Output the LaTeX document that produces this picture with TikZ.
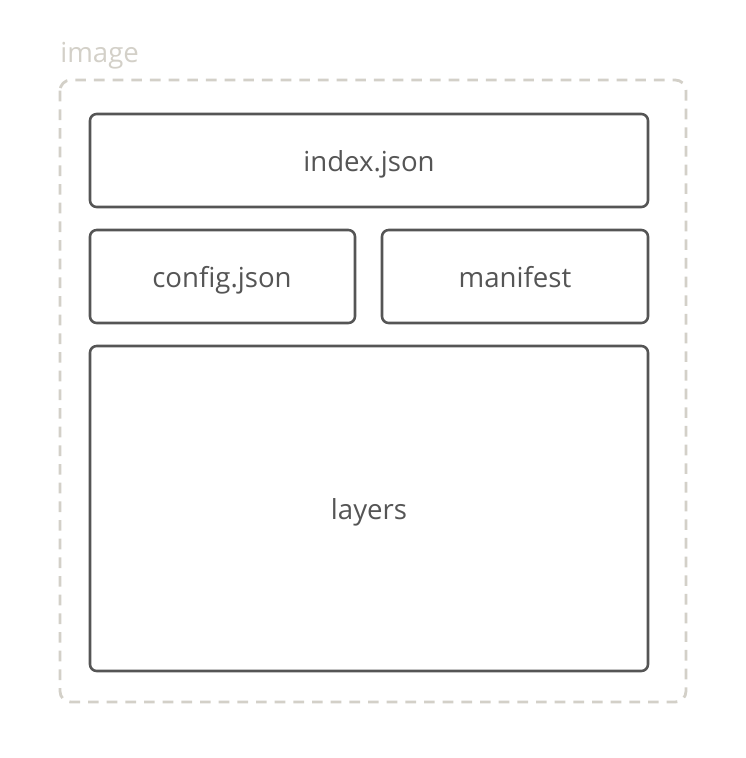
\documentclass[tikz,border=0pt]{standalone}
\usepackage{fontspec}
\setmainfont{Open Sans}
\begin{document}
\begin{tikzpicture}[x=0.75pt,y=-0.75pt,
  box/.style={draw=boxgray,line width=1.9pt,rounded corners=5pt,fill=white},
  lbl/.style={text=boxgray,font=\fontsize{20.7pt}{24pt}\selectfont,text height=15pt,text depth=4pt,inner sep=0pt}]
\definecolor{boxgray}{HTML}{555555}
\definecolor{frame}{HTML}{D3D0C8}
\useasboundingbox (0,0) rectangle (746,758);
\draw[frame,line width=2.1pt,dash pattern=on 8pt off 6pt,rounded corners=8pt] (60,80) rectangle (686,702);
\node[anchor=west,text=frame,font=\fontsize{20.7pt}{24pt}\selectfont,text height=15pt,text depth=4pt,inner sep=0pt] (img) at (60,55) {image};
\draw[box] (90,114) rectangle (648,207);
\node[lbl] (idx) at (369,164) {index.json};
\draw[box] (90,230) rectangle (355,323);
\node[lbl] (cfg) at (222,280) {config.json};
\draw[box] (382,230) rectangle (648,323);
\node[lbl] (man) at (515,280) {manifest};
\draw[box] (90,346) rectangle (648,671);
\node[lbl] (lay) at (369,512) {layers};
\end{tikzpicture}
\end{document}
